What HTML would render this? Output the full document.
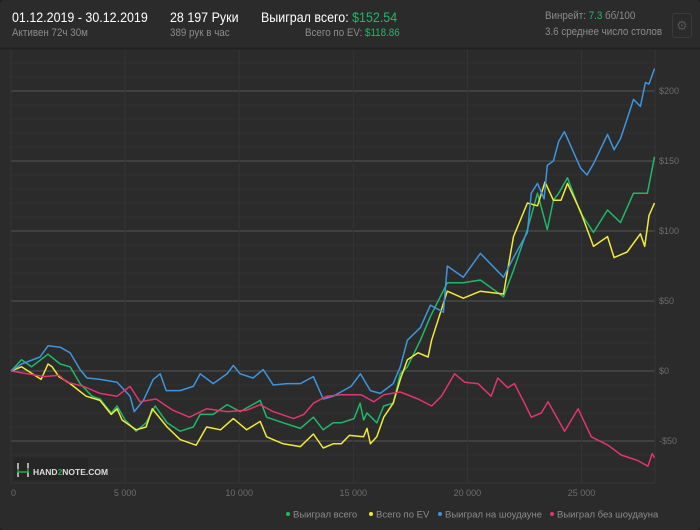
<!DOCTYPE html>
<html><head><meta charset="utf-8">
<style>
body{margin:0;background:#1e1e1e;width:700px;height:530px;overflow:hidden;font-family:"Liberation Sans",sans-serif}
#panel{position:absolute;left:0;top:0;width:700px;height:530px;background:#2b2b2b;border-radius:4px}
.t{position:absolute;white-space:nowrap;transform:scaleX(0.89);transform-origin:0 0}
.w{color:#fff;font-size:14px}
.g{color:#8c8c8c;font-size:11px}
.gr{color:#1fb86a}
</style></head><body>
<div id="panel">
<div class="t w" style="left:12px;top:9px">01.12.2019 - 30.12.2019</div>
<div class="t g" style="left:12px;top:27px">Активен 72ч 30м</div>
<div class="t w" style="left:170px;top:9px">28 197 Руки</div>
<div class="t g" style="left:170px;top:27px">389 рук в час</div>
<div class="t w" style="left:261px;top:9px">Выиграл всего: <span class="gr">$152.54</span></div>
<div class="t g" style="left:305px;top:27px">Всего по EV: <span class="gr">$118.86</span></div>
<div class="t g" style="left:545px;top:10px">Винрейт: <span class="gr">7.3</span> бб/100</div>
<div class="t g" style="left:545px;top:26px">3.6 среднее число столов</div>
<div style="position:absolute;left:672px;top:13px;width:18px;height:23px;border:1px solid #3a3a3a;border-radius:3px;color:#555;font-size:13px;text-align:center;line-height:23px">⚙</div>
<svg id="chart" width="700" height="530" style="position:absolute;left:0;top:0"></svg>
</div>
<script>
const xTicks=[0,5000,10000,15000,20000,25000];
const xTickLabels=["0","5 000","10 000","15 000","20 000","25 000"];
const yTicks=[200,150,100,50,0,-50];
const yTickLabels=["$200","$150","$100","$50","$0","-$50"];
const seriesNames=["Выиграл всего","Всего по EV","Выиграл на шоудауне","Выиграл без шоудауна"];
const greenHands=[0,460,900,1620,2150,2590,3030,3550,3900,4390,4650,5000,5480,5920,6320,6840,7410,7990,8290,8860,9470,10040,10920,11200,11930,12680,13250,13680,14120,14470,15030,15300,15450,15600,16030,16330,16750,16930,17060,17370,17940,18380,19120,19820,20570,21580,22020,22630,23070,23500,23770,24000,24386,24956,25526,26140,26710,27280,27890,28197];
const greenVals=[0,8,3,12,5,3,-9,-18,-20,-30,-25,-35,-43,-37,-25,-37,-43,-40,-31,-31,-24,-29,-21,-33,-37,-41,-33,-42,-37,-37,-34,-23,-35,-30,-37,-25,-23,-11,-2,3,22,39,63,63,65,53,72,101,127,101,122,127,138,113,99,115,106,127,127,153];
const yellowHands=[0,460,1320,1620,1800,2100,2590,3290,3900,4390,4650,4870,5480,5920,6190,6840,7410,8110,8570,9180,9740,10330,10920,11200,11930,12680,13250,13680,14120,14470,14830,15450,15600,15750,16030,16330,16750,17060,17370,17840,18280,18430,19120,19820,20570,21580,22020,22630,23070,23400,23770,24100,24386,24956,25526,26140,26430,27000,27580,27770,27960,28197];
const yellowVals=[0,3,-6,5,3,-4,-9,-18,-21,-31,-27,-35,-42,-40,-27,-40,-49,-53,-40,-42,-34,-42,-36,-47,-52,-54,-45,-55,-52,-52,-46,-47,-41,-52,-47,-33,-23,-6,8,13,10,22,57,52,57,55,96,120,118,135,122,122,134,114,89,96,81,85,98,89,111,120];
const blueHands=[0,460,1270,1620,2150,2590,3030,3330,3900,4650,5220,5400,5800,6230,6540,6800,7410,7990,8290,8860,9470,9740,10040,10610,11050,11490,12100,12680,13250,13680,14120,14560,14900,15310,15750,16180,16750,17060,17370,17940,18380,18950,19120,19820,20570,21580,22020,22630,22800,23070,23360,23500,23770,24000,24250,24386,24956,25240,25526,25820,26140,26430,26710,27000,27280,27580,27800,27960,28197];
const blueVals=[0,5,10,18,17,13,1,-5,-6,-8,-18,-29,-21,-6,-2,-14,-14,-11,-2,-9,-2,4,-2,-5,1,-10,-9,-9,-4,-20,-18,-14,-11,-2,-14,-16,-9,3,22,31,47,42,75,67,84,67,81,99,127,134,123,147,150,164,171,166,145,140,148,158,169,158,166,180,194,189,206,205,216];
const redHands=[0,1460,2100,2450,3180,3900,4650,5220,5650,6360,7090,7820,8570,9470,10330,10920,11490,12380,12830,13250,13840,14470,15350,15900,16330,17060,17840,18430,18860,19440,19880,20460,21040,21330,21770,22060,22500,22800,23240,23530,24260,24850,25430,26160,26740,27470,27910,28100,28197];
const redVals=[0,-4,-3,-8,-11,-16,-18,-11,-22,-20,-28,-33,-27,-29,-28,-24,-29,-34,-31,-23,-18,-17,-17,-22,-17,-15,-20,-25,-18,-2,-8,-9,-18,-5,-12,-9,-23,-33,-30,-22,-43,-27,-47,-53,-60,-64,-68,-59,-62];
const colors=["#1fb86a","#f2ea38","#3d95e0","#e0356f"];

const NS="http://www.w3.org/2000/svg";
const svg=document.getElementById('chart');
const X0=11,X1=655,Y0=50,Y1=483;
const xs=h=>X0+h*0.02282;
const ys=v=>371-v*1.4;
function mk(tag,attrs){const e=document.createElementNS(NS,tag);for(const k in attrs)e.setAttribute(k,attrs[k]);svg.appendChild(e);return e;}
let sep=mk('line',{x1:0,x2:700,y1:48.5,y2:48.5,stroke:'#222','stroke-width':2});


for(let v=-80;v<=220;v+=10){const y=ys(v);if(y<Y0||y>Y1)continue;
 const l=mk('line',{x1:X0,x2:X1,y1:y,y2:y,stroke:(v%50===0)?'#555':'#323232','stroke-width':1});
 
 }
xTicks.forEach((t,i)=>{const x=xs(t);
 const l=mk('line',{x1:x,x2:x,y1:Y0,y2:Y1,stroke:'#353535','stroke-width':1});
 
 
 const tx=mk('text',{x:x,y:496,fill:'#6d6d6d','font-size':9,'text-anchor':i===0?'start':'middle','font-family':'Liberation Sans, sans-serif'});
 tx.textContent=xTickLabels[i];
 
 });
let rl=mk('line',{x1:X1,x2:X1,y1:Y0,y2:Y1,stroke:'#353535'});


let bl=mk('line',{x1:X0,x2:X1,y1:Y1,y2:Y1,stroke:'#353535'});


yTicks.forEach((t,i)=>{
 const tx=mk('text',{x:659,y:ys(t)+3,fill:'#6d6d6d','font-size':9,'font-family':'Liberation Sans, sans-serif'});
 tx.textContent=yTickLabels[i];
 
 });
const lg=mk('rect',{x:14,y:458,width:74,height:22,fill:'#262626'});


const lp=mk('path',{d:'M18 463v6M18 472v5M28 463v5M28 471v6',stroke:'#ccc','stroke-width':1.6,fill:'none'});


const lp2=mk('path',{d:'M18 469v3h10v-4',stroke:'#2aa54a','stroke-width':1.6,fill:'none'});


const lt=mk('text',{x:33,y:475,fill:'#ddd','font-size':8.5,'font-weight':'bold','font-family':'Liberation Sans, sans-serif'});
lt.innerHTML='HAND<tspan fill="#2aa54a">2</tspan>NOTE.COM';


[[greenHands,greenVals,0],[yellowHands,yellowVals,1],[blueHands,blueVals,2],[redHands,redVals,3]].forEach(([h,v,c])=>{
 const d=h.map((hh,i)=>(i?'L':'M')+xs(hh).toFixed(1)+' '+ys(v[i]).toFixed(1)).join('');
 const p=mk('path',{d:d,stroke:colors[c],'stroke-width':1.5,fill:'none','stroke-linejoin':'round'});
 
 
});
const lx=[288,371,440,552];
seriesNames.forEach((n,i)=>{
 const c=mk('circle',{cx:lx[i],cy:514,r:2,fill:colors[i]});
 
 
 const t=mk('text',{x:lx[i]+5,y:517.5,fill:'#8c8c8c','font-size':9.5,'font-family':'Liberation Sans, sans-serif'});
 t.textContent=n;
 
 
});
</script>
</body></html>
